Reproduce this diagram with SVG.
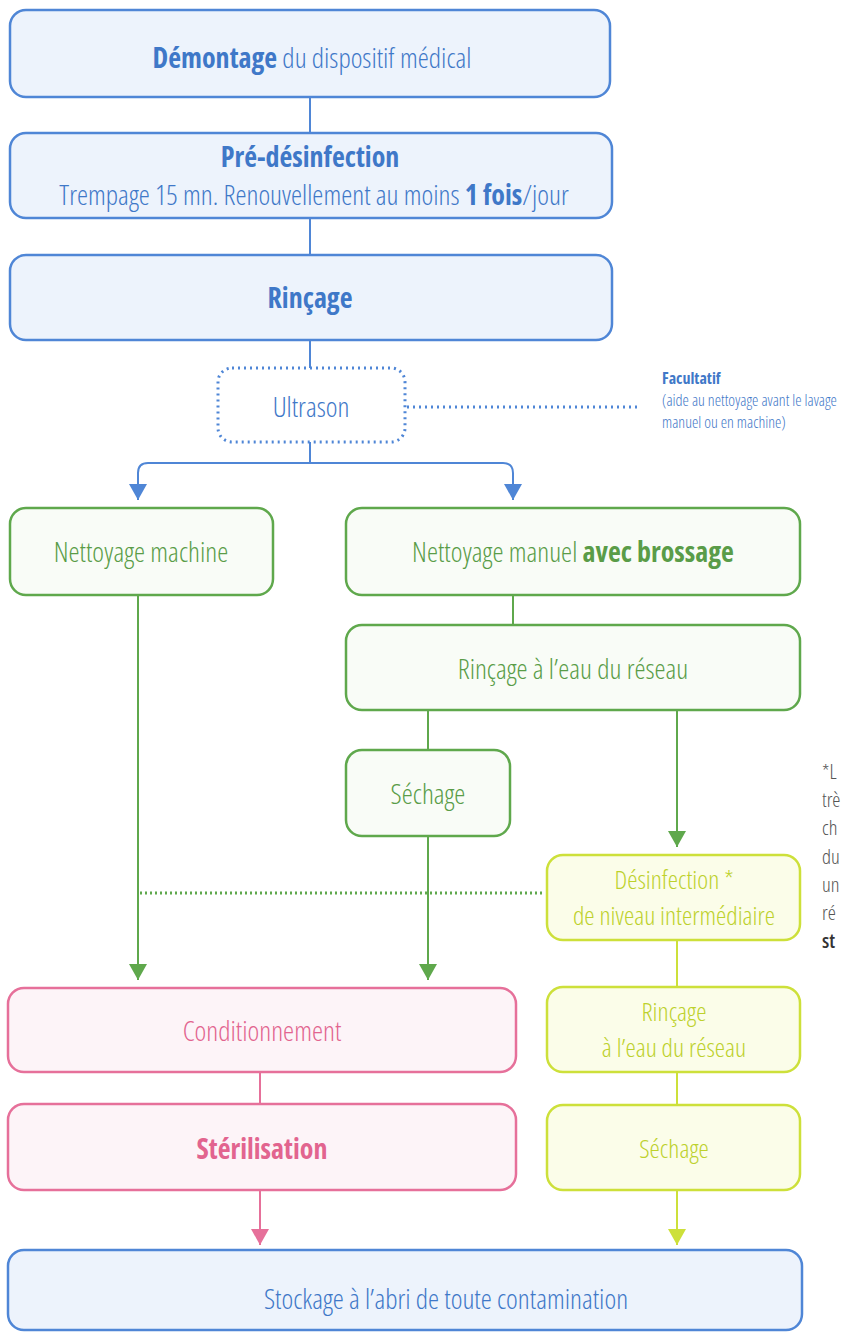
<svg xmlns="http://www.w3.org/2000/svg" width="867" height="1335" viewBox="0 0 867 1335">
<defs>
<style>
text{font-family:"Open Sans","Liberation Sans Narrow","Liberation Sans",sans-serif;font-stretch:condensed;font-size:28px;font-weight:300;text-anchor:middle}
.b{fill:#edf3fc;stroke:#4f86d6;stroke-width:2.5}
.bt{fill:#3f78c8}
.g{fill:#f9fcf7;stroke:#5fa84c;stroke-width:2.5}
.gt{fill:#5a9c48}
.y{fill:#fbfde9;stroke:#cde03a;stroke-width:2.5}
.yt{fill:#bdd12c;font-size:26px}
.p{fill:#fdf4f8;stroke:#e6709a;stroke-width:2.5}
.pt{fill:#e2648f}
.bold{font-weight:700}
.lb{stroke:#4f86d6;stroke-width:2;fill:none}
.lg{stroke:#5fa84c;stroke-width:2;fill:none}
.ly{stroke:#cde03a;stroke-width:2;fill:none}
.lp{stroke:#e6709a;stroke-width:2;fill:none}
.note{font-size:16px;text-anchor:start}
.side{fill:#555;font-size:20.5px;text-anchor:start}
</style>
<marker id="ab" markerWidth="18" markerHeight="16" refX="9" refY="16" orient="0" markerUnits="userSpaceOnUse"><path d="M0,0 L18,0 L9,16 Z" fill="#4f86d6"/></marker>
<marker id="ag" markerWidth="18" markerHeight="16" refX="9" refY="16" orient="0" markerUnits="userSpaceOnUse"><path d="M0,0 L18,0 L9,16 Z" fill="#5fa84c"/></marker>
<marker id="ay" markerWidth="18" markerHeight="16" refX="9" refY="16" orient="0" markerUnits="userSpaceOnUse"><path d="M0,0 L18,0 L9,16 Z" fill="#cde03a"/></marker>
<marker id="ap" markerWidth="18" markerHeight="16" refX="9" refY="16" orient="0" markerUnits="userSpaceOnUse"><path d="M0,0 L18,0 L9,16 Z" fill="#e6709a"/></marker>
</defs>
<rect width="867" height="1335" fill="#ffffff"/>
<g id="connectors">
<line class="lb" x1="310" y1="97" x2="310" y2="133"/>
<line class="lb" x1="310" y1="218" x2="310" y2="255"/>
<line class="lb" x1="310" y1="340" x2="310" y2="368"/>
<line x1="407" y1="407" x2="640" y2="407" stroke="#4f86d6" stroke-width="3" stroke-dasharray="2,4"/>
<path class="lb" d="M310,442 V463"/>
<path class="lb" d="M310,463 H148 Q138,463 138,473 V500" marker-end="url(#ab)"/>
<path class="lb" d="M310,463 H503 Q513,463 513,473 V500" marker-end="url(#ab)"/>
<path class="lg" d="M138,595 V980" marker-end="url(#ag)"/>
<line class="lg" x1="513" y1="595" x2="513" y2="625"/>
<line class="lg" x1="428" y1="710" x2="428" y2="750"/>
<path class="lg" d="M677,710 V847" marker-end="url(#ag)"/>
<path class="lg" d="M428,836 V980" marker-end="url(#ag)"/>
<line x1="140" y1="893" x2="545" y2="893" stroke="#5fa84c" stroke-width="3" stroke-dasharray="2,3"/>
<line class="ly" x1="677" y1="940" x2="677" y2="987"/>
<line class="ly" x1="677" y1="1072" x2="677" y2="1105"/>
<path class="ly" d="M677,1190 V1245" marker-end="url(#ay)"/>
<line class="lp" x1="260" y1="1072" x2="260" y2="1104"/>
<path class="lp" d="M260,1190 V1245" marker-end="url(#ap)"/>
</g>
<g id="n-demontage"><rect class="b" x="10" y="10" width="600" height="87" rx="16"/><text class="bt" x="312" y="68"><tspan class="bold">Démontage</tspan> du dispositif médical</text></g>
<g id="n-predesinfection"><rect class="b" x="10" y="133" width="602" height="85" rx="16"/><text class="bt" font-size="27.5"><tspan class="bold" x="310" y="167">Pré-désinfection</tspan><tspan x="314" y="205">Trempage 15 mn. Renouvellement au moins <tspan class="bold">1 fois</tspan>/jour</tspan></text></g>
<g id="n-rincage"><rect class="b" x="10" y="255" width="602" height="85" rx="16"/><text class="bt bold" x="310" y="308">Rinçage</text></g>
<g id="n-ultrason"><rect x="218" y="368" width="187" height="74" rx="14" fill="#ffffff" stroke="#4f86d6" stroke-width="3" stroke-dasharray="2,4"/><text class="bt" x="311" y="417">Ultrason</text></g>
<g id="n-facultatif"><text class="bt note"><tspan class="bold" x="662" y="384">Facultatif</tspan><tspan x="662" y="406">(aide au nettoyage avant le lavage</tspan><tspan x="662" y="428">manuel ou en machine)</tspan></text></g>
<g id="n-nettoyage-machine"><rect class="g" x="10" y="508" width="263" height="87" rx="16"/><text class="gt" x="141" y="562">Nettoyage machine</text></g>
<g id="n-nettoyage-manuel"><rect class="g" x="346" y="508" width="454" height="87" rx="16"/><text class="gt" x="573" y="562">Nettoyage manuel <tspan class="bold">avec brossage</tspan></text></g>
<g id="n-rincage-reseau"><rect class="g" x="346" y="625" width="454" height="85" rx="16"/><text class="gt" x="573" y="679">Rinçage à l’eau du réseau</text></g>
<g id="n-sechage1"><rect class="g" x="346" y="750" width="164" height="86" rx="16"/><text class="gt" x="428" y="804">Séchage</text></g>
<g id="n-desinfection"><rect class="y" x="547" y="855" width="253" height="85" rx="16"/><text class="yt"><tspan x="674" y="889">Désinfection *</tspan><tspan x="674" y="925">de niveau intermédiaire</tspan></text></g>
<g id="n-rincage2"><rect class="y" x="547" y="987" width="253" height="85" rx="16"/><text class="yt"><tspan x="674" y="1021">Rinçage</tspan><tspan x="674" y="1057">à l’eau du réseau</tspan></text></g>
<g id="n-sechage2"><rect class="y" x="547" y="1105" width="253" height="85" rx="16"/><text class="yt" x="674" y="1158" font-size="28">Séchage</text></g>
<g id="n-conditionnement"><rect class="p" x="8" y="988" width="508" height="84" rx="16"/><text class="pt" x="262" y="1041">Conditionnement</text></g>
<g id="n-sterilisation"><rect class="p" x="8" y="1104" width="508" height="86" rx="16"/><text class="pt bold" x="262" y="1159">Stérilisation</text></g>
<g id="n-stockage"><rect class="b" x="8" y="1250" width="794" height="80" rx="16"/><text class="bt" x="446" y="1309">Stockage à l’abri de toute contamination</text></g>
<g id="n-side-note">
<text class="side"><tspan x="822" y="779">*L</tspan><tspan x="822" y="807">trè</tspan><tspan x="822" y="835">ch</tspan><tspan x="822" y="864">du</tspan><tspan x="822" y="892">un</tspan><tspan x="822" y="920">ré</tspan><tspan x="822" y="948" fill="#333" font-weight="600">st</tspan></text>
</g>
</svg>
